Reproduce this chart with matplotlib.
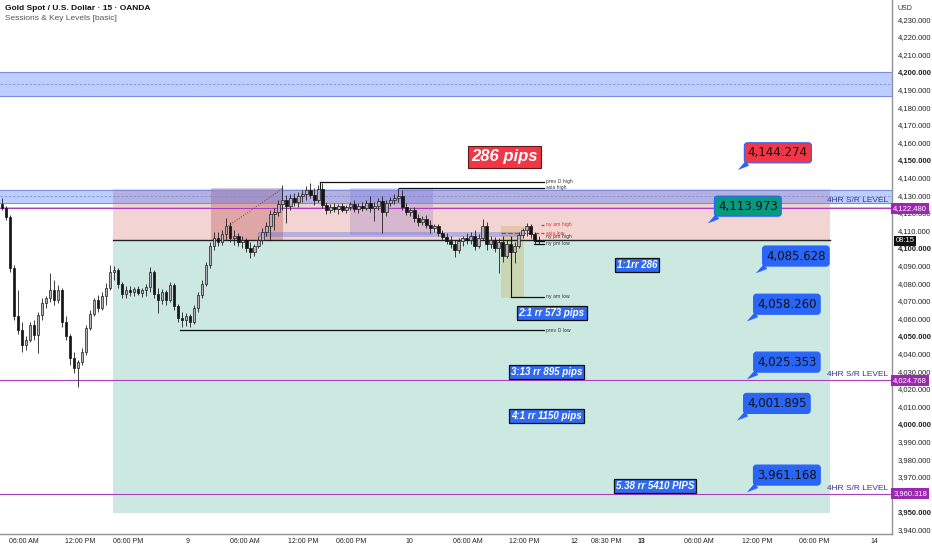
import numpy as np
import matplotlib.pyplot as plt
import matplotlib.transforms as mtransforms
from matplotlib.patches import Rectangle

plt.rcParams['font.family'] = ['DejaVu Sans']

# velas de 15 min (una cada ~4 px), el open es el cierre anterior
open0 = 4125.0
closes = [4122.7, 4117.6, 4088.6, 4061.4, 4053.4, 4044.9, 4047.7, 4056.3, 4050.6, 4061.9,
          4068.8, 4071.6, 4076.1, 4070.5, 4076.1, 4058.0, 4050.0, 4037.5, 4031.8, 4035.2,
          4040.9, 4054.5, 4062.5, 4070.5, 4065.9, 4072.7, 4077.3, 4086.4, 4087.5, 4079.5,
          4073.9, 4076.1, 4075.0, 4076.7, 4074.4, 4076.1, 4077.8, 4086.4, 4073.9, 4070.5,
          4075.0, 4070.5, 4079.0, 4067.0, 4060.2, 4059.1, 4061.4, 4058.0, 4065.9, 4073.3,
          4079.5, 4090.3, 4101.1, 4105.7, 4103.4, 4108.0, 4112.5, 4105.7, 4106.8, 4103.4,
          4104.5, 4100.0, 4097.7, 4101.1, 4104.5, 4109.1, 4112.5, 4119.3, 4120.5, 4125.0,
          4127.3, 4123.9, 4128.4, 4126.1, 4129.5, 4130.7, 4133.0, 4130.1, 4127.3, 4133.5,
          4124.4, 4121.6, 4123.3, 4122.2, 4123.9, 4121.6, 4123.3, 4125.0, 4122.2, 4123.9,
          4122.7, 4125.6, 4122.7, 4123.9, 4126.7, 4120.5, 4125.6, 4127.3, 4128.4, 4129.5,
          4123.3, 4120.5, 4121.6, 4117.0, 4114.8, 4116.5, 4113.1, 4111.4, 4112.5, 4108.5,
          4106.3, 4104.0, 4102.3, 4098.9, 4104.0, 4105.7, 4104.5, 4106.8, 4101.1, 4105.7,
          4112.5, 4102.3, 4104.5, 4100.0, 4103.4, 4095.5, 4102.3, 4097.7, 4101.1, 4107.4,
          4110.2, 4112.5, 4108.0, 4104.5, 4104.0]
highs = [4128.4, 4123.9, 4118.8, 4090.3, 4076.1, 4058.0, 4050.0, 4058.0, 4059.1, 4063.6,
         4071.6, 4072.7, 4085.8, 4081.8, 4079.0, 4077.3, 4061.4, 4051.1, 4040.9, 4036.4,
         4043.2, 4056.3, 4064.8, 4071.6, 4073.3, 4075.0, 4080.1, 4090.3, 4089.8, 4088.6,
         4080.7, 4078.4, 4078.4, 4077.8, 4078.4, 4077.3, 4079.5, 4089.2, 4087.5, 4077.3,
         4076.7, 4076.1, 4080.7, 4080.1, 4068.2, 4063.6, 4063.1, 4062.5, 4067.6, 4075.0,
         4081.8, 4092.0, 4103.4, 4109.1, 4109.1, 4110.2, 4117.0, 4114.8, 4110.2, 4108.5,
         4106.8, 4105.7, 4103.4, 4102.3, 4106.8, 4111.4, 4114.8, 4121.6, 4122.7, 4127.3,
         4135.8, 4130.1, 4130.7, 4131.3, 4131.8, 4133.0, 4135.2, 4136.9, 4134.1, 4135.8,
         4136.9, 4126.1, 4125.0, 4125.6, 4125.0, 4125.6, 4124.4, 4126.1, 4127.3, 4125.6,
         4126.1, 4127.3, 4129.5, 4126.1, 4128.4, 4129.5, 4127.3, 4129.0, 4130.7, 4134.1,
         4133.0, 4125.6, 4122.7, 4123.3, 4119.3, 4118.2, 4118.8, 4115.9, 4113.6, 4113.6,
         4110.2, 4108.5, 4106.8, 4104.5, 4105.7, 4106.8, 4108.5, 4109.1, 4110.2, 4108.0,
         4116.5, 4114.8, 4106.8, 4106.3, 4105.7, 4106.8, 4104.5, 4106.8, 4103.4, 4109.1,
         4111.4, 4114.2, 4113.6, 4109.1, 4106.8]
lows = [4121.6, 4115.9, 4086.4, 4059.1, 4051.1, 4040.9, 4042.0, 4046.6, 4047.7, 4040.3,
        4059.1, 4065.9, 4069.3, 4067.6, 4068.8, 4055.1, 4047.7, 4033.5, 4029.0, 4021.0,
        4033.5, 4039.2, 4053.4, 4061.4, 4063.6, 4064.8, 4067.6, 4076.1, 4081.8, 4077.3,
        4071.6, 4071.6, 4072.7, 4072.7, 4073.3, 4072.2, 4072.7, 4075.0, 4071.6, 4063.1,
        4068.2, 4067.6, 4069.3, 4064.8, 4058.0, 4055.1, 4055.7, 4055.1, 4056.8, 4063.6,
        4071.6, 4078.4, 4088.6, 4098.9, 4101.1, 4101.7, 4104.5, 4103.4, 4101.7, 4101.1,
        4100.0, 4097.7, 4094.3, 4095.5, 4100.0, 4102.3, 4106.8, 4104.5, 4110.2, 4118.2,
        4121.6, 4114.2, 4121.6, 4123.9, 4123.3, 4126.1, 4127.3, 4128.4, 4124.4, 4126.1,
        4122.7, 4119.3, 4119.9, 4120.5, 4119.3, 4120.5, 4119.9, 4121.6, 4120.5, 4119.9,
        4121.0, 4121.6, 4120.5, 4115.3, 4121.6, 4108.5, 4118.2, 4123.9, 4125.0, 4126.1,
        4121.6, 4118.8, 4118.2, 4114.8, 4112.5, 4113.1, 4111.4, 4108.5, 4109.1, 4106.8,
        4104.5, 4102.3, 4100.0, 4094.9, 4097.2, 4101.1, 4102.3, 4102.3, 4098.9, 4100.0,
        4104.5, 4098.9, 4100.0, 4097.7, 4085.8, 4092.0, 4094.3, 4094.3, 4091.5, 4100.0,
        4105.7, 4106.8, 4105.7, 4102.3, 4102.3]

# niveles
entry = 4104.5
stop = 4133.5
target = 3949.4
sr_levels = [4122.480, 4024.768, 3960.318]
zone_top = (4186.4, 4200.0)
zone_mid = (4125.6, 4133.0)

# callouts de precio
call_vals = [4144.274, 4113.973, 4085.628, 4058.260, 4025.353, 4001.895, 3961.168]
call_x = [183.75, 176.25, 188.25, 186.0, 186.0, 183.5, 186.0]
call_col = ['#f23645', '#089981', '#2a66f5', '#2a66f5', '#2a66f5', '#2a66f5', '#2a66f5']

rr_texts = ['1:1rr 286', '2:1 rr 573 pips', '3:13 rr 895 pips', '4:1 rr 1150 pips', '5.38 rr 5410 PIPS']
rr_x = [158.5, 137.25, 136.0, 136.0, 163.0]
rr_y = [4090.3, 4063.1, 4029.5, 4004.5, 3964.8]

xtick_pos = [5.5, 19.5, 31.5, 46.25, 60.75, 75.25, 87.25, 101.75, 116.25, 130.5,
             143.0, 151.0, 159.75, 174.0, 188.5, 202.75, 217.75]
xtick_lab = ['06:00 AM', '12:00 PM', '06:00 PM', '9', '06:00 AM', '12:00 PM', '06:00 PM', '10',
             '06:00 AM', '12:00 PM', '12', '08:30 PM', '13', '06:00 AM', '12:00 PM', '06:00 PM', '14']

fig = plt.figure(figsize=(9.32, 5.5), dpi=100)
ax = fig.add_axes([0, 16/550, 892/932, 534/550])
ax.set_facecolor('white')

# zonas riesgo / beneficio
x0, x1 = 27.75, 206.75
ax.add_patch(Rectangle((x0, entry), x1-x0, stop-entry, fc='#f2d4d2', ec='none', zorder=1))
ax.add_patch(Rectangle((x0, target), x1-x0, entry-target, fc='#cbe9e1', ec='none', zorder=1))
ax.plot([x0, x1], [entry, entry], color='#222', lw=1.0, zorder=3)

# cajas de sesiones
ax.add_patch(Rectangle((52.25, 4104.5), 18, 29.6, fc='#b0413e', alpha=0.3, ec='none', zorder=1.5))
ax.add_patch(Rectangle((87, 4107.4), 20.75, 26.7, fc='#8a63c4', alpha=0.25, ec='none', zorder=1.5))
ax.add_patch(Rectangle((124.5, 4071.6), 5.75, 40.9, fc='#c8b45a', alpha=0.35, ec='none', zorder=1.5))

# bandas azules 4HR
for lo, hi in [zone_top, zone_mid]:
    ax.axhspan(lo, hi, fc='#2962ff', alpha=0.3, ec='none', zorder=2)
    ax.axhline(lo, color='#7c8ee6', lw=0.8, zorder=2)
    ax.axhline(hi, color='#7c8ee6', lw=0.8, zorder=2)
    ax.axhline((lo+hi)/2, color='#7c8ee6', lw=0.6, ls=(0, (3, 2)), zorder=2)
ax.add_patch(Rectangle((64, 4106.6), 65.5, 2.7, fc='#2962ff', alpha=0.3, ec='#6a78d8', lw=0.6, zorder=2))

# lineas S/R moradas
ax.axhline(4123.4, color='#dc9ade', lw=0.6, zorder=2)
for lv in sr_levels:
    ax.axhline(lv, color='#a93fbd', lw=0.8, zorder=2)

# niveles de sesion
lvl = [('prev D high', 79.5, 4137.5, '#333'), ('asia high', 99.25, 4134.1, '#333'),
       ('ny am high', 134.5, 4113.1, '#d33'), ('asia low', 124.5, 4108.5, '#d33'),
       ('ny pm high', 132.75, 4104.0, '#333'), ('ny pm low', 132.75, 4102.3, '#333'),
       ('ny am low', 127.0, 4072.2, '#333'), ('prev D low', 44.5, 4053.4, '#333')]
lab_y = {'ny am high': 4113.1, 'asia low': 4108.5, 'ny pm high': 4106.3, 'ny pm low': 4102.3}
for name, xs0, yv, col in lvl:
    ls = '-' if col == '#333' else '--'
    ax.plot([xs0, 135.25], [yv, yv], color='#111' if col == '#333' else col, lw=0.9, ls=ls, zorder=3)
    ax.text(135.8, lab_y.get(name, yv), name, fontsize=3.3, color=col, va='center', zorder=7)
ax.plot([127, 127], [4106.0, 4072.2], color='#111', lw=0.8, zorder=3)
ax.plot([79.5, 79.5], [4137.5, 4133.0], color='#111', lw=0.8, zorder=3)
ax.plot([56.5, 70.25], [4112.5, 4134.1], color='#8b3a3a', lw=0.7, ls=':', zorder=3)

# velas
xs = np.arange(len(closes))
c = np.array(closes)
h = np.array(highs)
l = np.array(lows)
o = np.r_[open0, c[:-1]]
up = c >= o
body = np.maximum(np.abs(c - o), 0.4)
bot = np.minimum(c, o)
ax.vlines(xs, l, h, color='#1e1e1e', lw=0.6, zorder=5)
ax.bar(xs[up], body[up], bottom=bot[up], width=0.62, color='#b8afbe', edgecolor='#1e1e1e', lw=0.5, zorder=6)
ax.bar(xs[~up], body[~up], bottom=bot[~up], width=0.62, color='#141414', edgecolor='#141414', lw=0.5, zorder=6)

# textos
for yv in [4126.7, 4028.2, 3963.2]:
    ax.text(206, yv, '4HR S/R LEVEL', fontsize=6, color='#3b2f96', va='center', zorder=7,
            family='Liberation Sans')

ax.text(125.5, 4151.7, '286 pips', fontsize=12, color='white', weight='bold', style='italic',
        ha='center', va='center', family='Liberation Sans', zorder=8,
        bbox=dict(boxstyle='square,pad=0.22', fc='#f23645', ec='#5a1a1a', lw=0.8))
for t, xx, yy in zip(rr_texts, rr_x, rr_y):
    ax.text(xx, yy, t, fontsize=7, color='white', weight='bold', style='italic', ha='center',
            va='center', family='Liberation Sans', zorder=8,
            bbox=dict(boxstyle='square,pad=0.2', fc='#2f6af0', ec='#111', lw=0.9))

for v, xx, col in zip(call_vals, call_x, call_col):
    ax.annotate(f'{v:,.3f}', xy=(xx, v), xytext=(xx + 10, v + 9.8), fontsize=8.5, color='#111',
                ha='center', va='center', zorder=9,
                bbox=dict(boxstyle='round,pad=0.3,rounding_size=0.25', fc=col, ec='#2962ff', lw=0.8),
                arrowprops=dict(arrowstyle='wedge,tail_width=0.5,shrink_factor=0.5', fc='#2962ff',
                                ec='none', relpos=(0.1, 0.05), shrinkA=0, shrinkB=0))

# ejes
ax.set_xlim(-0.5, 222.25)
ax.set_ylim(3937.5, 4240.9)
ax.yaxis.tick_right()
yt = np.arange(3940, 4231, 10)
ax.set_yticks(yt)
# la etiqueta 3,960 queda tapada por la de 3,960.318 en el original
ax.set_yticklabels(['' if v == 3960 else f'{v:,.3f}' for v in yt], fontsize=5.5,
                   family='Liberation Sans', color='#222')
for lab, v in zip(ax.get_yticklabels(), yt):
    if v % 50 == 0:
        lab.set_fontweight('bold')
ax.set_xticks(xtick_pos)
ax.set_xticklabels(xtick_lab, fontsize=5, family='Liberation Sans', color='#222')
for lab in ax.get_xticklabels():
    if lab.get_text() == '13':
        lab.set_fontweight('bold')
ax.tick_params(axis='y', length=0, pad=4)
ax.tick_params(axis='x', length=0, pad=3)
for s in ['top', 'left']:
    ax.spines[s].set_visible(False)
for s in ['right', 'bottom']:
    ax.spines[s].set_color('#8f929a')
    ax.spines[s].set_linewidth(1)

trans = mtransforms.blended_transform_factory(ax.transAxes, ax.transData)
for lv in sr_levels:
    ax.text(1.0015, lv, f'{lv:,.3f}', transform=trans, fontsize=5.5, color='white',
            family='Liberation Sans', va='center', ha='left', clip_on=False, zorder=10,
            bbox=dict(boxstyle='square,pad=0.25', fc='#9c27b0', ec='none'))
ax.text(1.004, closes[-1], '08:15', transform=trans, fontsize=5.5, color='white',
        family='Liberation Sans', va='center', ha='left', clip_on=False, zorder=10,
        bbox=dict(boxstyle='square,pad=0.25', fc='#111', ec='none'))

fig.text(5/932, 1-9/550, 'Gold Spot / U.S. Dollar · 15 · OANDA', fontsize=6, weight='bold',
         color='#111', va='center', family='Liberation Sans')
fig.text(5/932, 1-19/550, 'Sessions & Key Levels [basic]', fontsize=6, color='#555',
         va='center', family='Liberation Sans')
fig.text(898/932, 1-9/550, 'USD', fontsize=5, color='#333', va='center', family='Liberation Sans')

fig.savefig('out.png', dpi=100)
